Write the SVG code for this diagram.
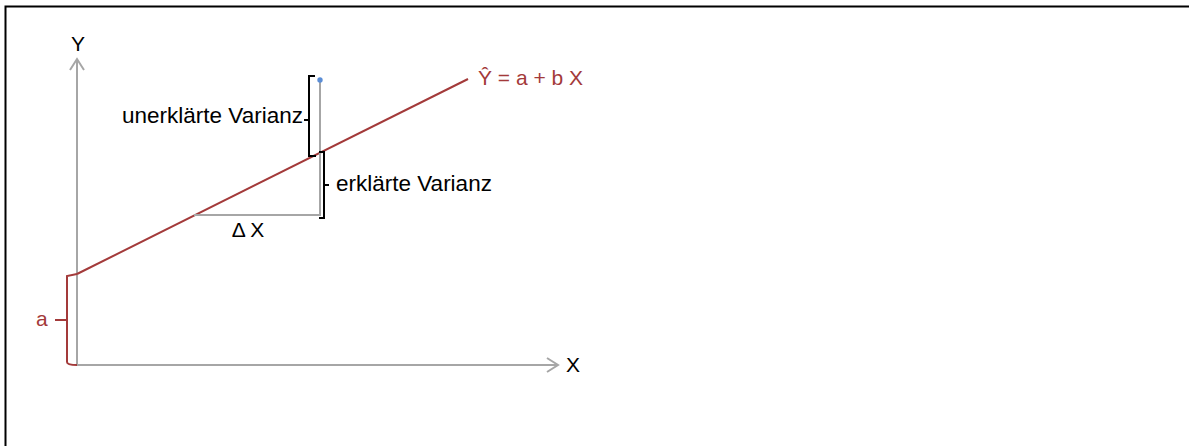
<svg xmlns="http://www.w3.org/2000/svg" width="1189" height="446" viewBox="0 0 1189 446">
<style>
text{font-family:"Liberation Sans",Arial,sans-serif;font-size:21px;fill:#000}
.lbl{font-size:22.5px}
.ax{stroke:#a6a6a6;stroke-width:2;fill:none}
.red{stroke:#a33a3a;stroke-width:2;fill:none}
.br{stroke:#000;stroke-width:2;fill:none}
.rt{fill:#a33a3a}
</style>
<rect width="1189" height="446" fill="#fff"/>
<path d="M5.5 446V6.5H1189" stroke="#000" stroke-width="2" fill="none"/>
<g id="axes">
<path class="ax" d="M77 365V59M70 70L77 59L84 70"/>
<path class="ax" d="M77 365H558M547 358L558 365L547 372"/>
<text x="78" y="51" text-anchor="middle">Y</text>
<text x="566" y="372">X</text>
</g>
<g id="regression">
<path class="red" d="M77 274L468 79"/>
<text class="rt" x="478" y="85">Ŷ = a + b X</text>
</g>
<g id="connectors">
<path class="ax" d="M194 215H320V80"/>
</g>
<g id="point">
<circle cx="320" cy="80" r="2.7" fill="#5b8ed6"/>
</g>
<g id="deltaX">
<text x="248" y="237" text-anchor="middle">Δ X</text>
</g>
<g id="unerklaert">
<path class="br" d="M315 76H309V156H316M309 120H304"/>
<text class="lbl" x="303" y="123" text-anchor="end">unerklärte Varianz</text>
</g>
<g id="erklaert">
<path class="br" d="M319 152H324V218H319M324 185H329"/>
<text class="lbl" x="336" y="191">erklärte Varianz</text>
</g>
<g id="a">
<path class="red" d="M77 274Q72 275 67 276V362Q67 365 77 365M67 320H55"/>
<text class="rt" x="36" y="326">a</text>
</g>
</svg>
